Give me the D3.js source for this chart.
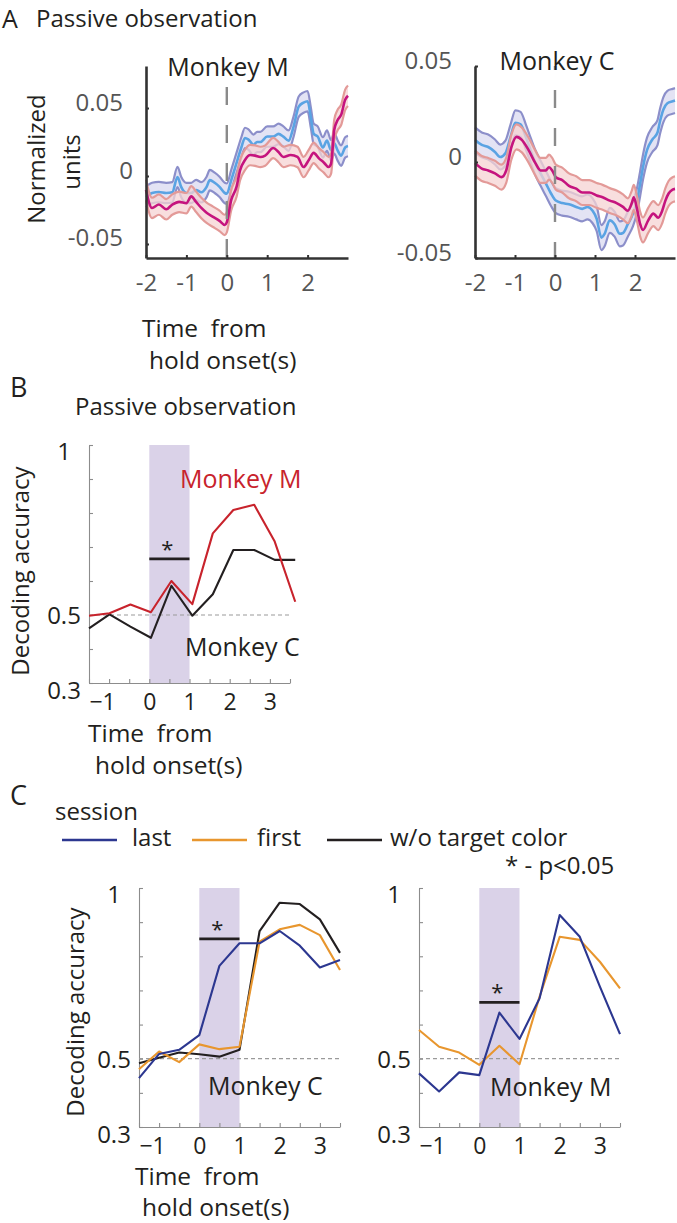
<!DOCTYPE html>
<html><head><meta charset="utf-8">
<script src="https://cdn.jsdelivr.net/npm/d3@7"></script>
<style>
body{margin:0;background:#fff;}
svg{display:block;}
text{white-space:pre;}
</style></head><body>
<script>
// ---------------- DATA ----------------
// Panel A: time (s) / normalized units pairs
const aLeftBlue = [[-2.0,-0.0154],[-1.85,-0.0125],[-1.68,-0.0118],[-1.5,-0.0125],[-1.35,-0.012],[-1.22,-0.0007],[-1.13,-0.008],[-1.0,-0.0125],[-0.88,-0.0125],[-0.76,-0.0103],[-0.63,-0.012],[-0.5,-0.008],[-0.42,-0.003],[-0.3,-0.005],[-0.18,-0.008],[-0.05,-0.0125],[0.0,-0.013],[0.11,-0.003],[0.24,0.0095],[0.36,0.021],[0.45,0.028],[0.53,0.027],[0.66,0.023],[0.75,0.025],[0.83,0.025],[1.0,0.029],[1.15,0.029],[1.28,0.031],[1.4,0.029],[1.53,0.026],[1.65,0.036],[1.78,0.051],[1.9,0.054],[2.0,0.055],[2.08,0.043],[2.15,0.031],[2.25,0.029],[2.38,0.021],[2.48,0.026],[2.58,0.019],[2.66,0.024],[2.74,0.019],[2.83,0.015],[2.93,0.021],[3.0,0.022]];
const aLeftMagenta = [[-2.0,-0.0103],[-1.85,-0.0235],[-1.68,-0.021],[-1.5,-0.0245],[-1.35,-0.021],[-1.18,-0.019],[-1.0,-0.020],[-0.88,-0.015],[-0.76,-0.019],[-0.63,-0.0235],[-0.5,-0.027],[-0.34,-0.030],[-0.18,-0.033],[-0.05,-0.036],[0.0,-0.034],[0.11,-0.0176],[0.24,-0.008],[0.33,0.0044],[0.45,0.0118],[0.58,0.0154],[0.7,0.015],[0.83,0.014],[0.95,0.015],[1.15,0.0206],[1.28,0.0176],[1.4,0.014],[1.58,0.0154],[1.75,0.014],[1.9,0.0066],[2.03,0.0118],[2.15,0.017],[2.28,0.013],[2.4,0.010],[2.52,0.0066],[2.58,0.009],[2.66,0.034],[2.74,0.041],[2.83,0.045],[2.93,0.056],[3.0,0.059]];
const aRightBlue = [[-2.0,0.0115],[-1.83,0.0089],[-1.67,0.0078],[-1.5,0.0052],[-1.37,0.0026],[-1.24,0.0046],[-1.11,0.0131],[-0.99,0.0204],[-0.86,0.0196],[-0.73,0.0131],[-0.61,0.0062],[-0.49,-0.0004],[-0.36,-0.0059],[-0.23,-0.0111],[-0.1,-0.0164],[0.02,-0.0201],[0.18,-0.0214],[0.35,-0.022],[0.53,-0.0234],[0.68,-0.0244],[0.81,-0.0234],[0.94,-0.0254],[1.04,-0.0294],[1.16,-0.0394],[1.24,-0.0374],[1.37,-0.0304],[1.49,-0.0324],[1.62,-0.0374],[1.7,-0.037],[1.82,-0.0324],[1.95,-0.0269],[2.05,-0.0201],[2.13,-0.0111],[2.2,-0.0027],[2.3,0.0062],[2.43,0.0116],[2.56,0.0152],[2.63,0.0216],[2.71,0.0273],[2.81,0.0306],[2.94,0.0316],[3.0,0.032]];
const aRightMagenta = [[-2.0,-0.0006],[-1.83,-0.0034],[-1.67,-0.0044],[-1.5,-0.0059],[-1.34,-0.0079],[-1.22,-0.0044],[-1.09,0.0078],[-0.96,0.0131],[-0.83,0.0115],[-0.66,0.0062],[-0.49,-0.0006],[-0.36,-0.0044],[-0.23,-0.0044],[-0.15,-0.0027],[-0.07,-0.0044],[0.02,-0.0079],[0.18,-0.0094],[0.35,-0.0124],[0.53,-0.0139],[0.68,-0.0159],[0.86,-0.0159],[1.04,-0.0174],[1.19,-0.0184],[1.37,-0.0201],[1.54,-0.0214],[1.7,-0.0234],[1.82,-0.0254],[1.92,-0.0214],[1.97,-0.0184],[2.05,-0.0244],[2.13,-0.0324],[2.2,-0.0354],[2.33,-0.0304],[2.46,-0.0269],[2.58,-0.029],[2.68,-0.0254],[2.76,-0.0201],[2.84,-0.0164],[2.94,-0.0144],[3.0,-0.014]];
const aLeftSem = 0.0075;
const aRightSem = 0.0065;
const aTicksX = [-2, -1, 0, 1, 2];
const aTickLabelsX = ["-2", "-1", "0", "1", "2"];
const aTicksY = [-0.05, 0, 0.05];
const aTickLabelsY = ["-0.05", "0", "0.05"];

// Panel B: decoding accuracy
const tB = [-1.5, -0.99, -0.47, 0.04, 0.55, 1.07, 1.58, 2.09, 2.61, 3.12, 3.63];
const bMonkeyM = [0.498, 0.505, 0.531, 0.508, 0.600, 0.532, 0.740, 0.809, 0.824, 0.716, 0.539];
const bMonkeyC = [0.461, 0.502, 0.466, 0.433, 0.586, 0.498, 0.561, 0.691, 0.691, 0.662, 0.662];
const bSig = 0.665;

// Panel C: decoding accuracy by session
const tC = [-1.5, -1, -0.5, 0, 0.5, 1, 1.5, 2, 2.5, 3, 3.5];
const cMonkeyCLast  = [0.443, 0.514, 0.526, 0.569, 0.772, 0.838, 0.838, 0.874, 0.831, 0.767, 0.789];
const cMonkeyCFirst = [0.469, 0.521, 0.490, 0.542, 0.528, 0.535, 0.843, 0.879, 0.892, 0.862, 0.760];
const cMonkeyCWo    = [0.487, 0.503, 0.518, 0.513, 0.506, 0.526, 0.874, 0.957, 0.953, 0.908, 0.810];
const cMonkeyMLast  = [0.457, 0.404, 0.460, 0.452, 0.635, 0.558, 0.677, 0.921, 0.857, 0.711, 0.572];
const cMonkeyMFirst = [0.584, 0.535, 0.518, 0.482, 0.538, 0.484, 0.682, 0.857, 0.848, 0.784, 0.706];
const cSigC = 0.851;
const cSigM = 0.665;

const decTicksX = [-1.5, -1, -0.5, 0, 0.5, 1, 1.5, 2, 2.5, 3, 3.5];
const decTickLabelsX = {"-1": "\u22121", "0": "0", "1": "1", "2": "2", "3": "3"};
const decTicksY = [0.3, 0.4, 0.5, 0.6, 0.7, 0.8, 0.9, 1.0];
const decTickLabelsY = {"0.3": "0.3", "0.5": "0.5", "1": "1"};
const xLabelLines = ["Time  from", "hold onset(s)"];

// ---------------- DRAW ----------------
const FONT = '"Open Sans", sans-serif';
const svg = d3.select("body").append("svg").attr("width", 677).attr("height", 1223)
  .style("font-family", FONT);

function text(x, y, s, size, opt = {}) {
  const t = svg.append("text").attr("x", x).attr("y", y).attr("font-size", size)
    .attr("fill", opt.fill || "#231f20").attr("text-anchor", opt.anchor || "start")
    .style("font-family", FONT).style("white-space", "pre").text(s);
  if (opt.rot) t.attr("transform", `rotate(${opt.rot},${x},${y})`);
  return t;
}
function xLabel(x, y, lineGap) {
  const t = svg.append("text").attr("x", x).attr("y", y).attr("font-size", 24.5)
    .attr("fill", "#231f20").style("font-family", FONT).style("white-space", "pre");
  t.append("tspan").attr("x", x).attr("y", y).text(xLabelLines[0]);
  t.append("tspan").attr("x", x + 7).attr("y", y + lineGap).text(xLabelLines[1]);
}

const COL = {
  blueMean: "#5aa3e3", blueEdge: "#8c8fca", blueFill: "#d9daf0",
  magMean: "#c5147e", magEdge: "#e39a98", magFill: "#f5d3d3"
};

function drawA(c) {
  const x = d3.scaleLinear().domain([-2, 3]).range([c.left, c.right]);
  const y = d3.scaleLinear().domain(c.yDomain).range([258, 66]);
  const g = svg.append("g");
  const area = (sem) => d3.area().x(d => x(d[0])).y0(d => y(d[1] - sem)).y1(d => y(d[1] + sem)).curve(d3.curveMonotoneX);
  const line = (off) => d3.line().x(d => x(d[0])).y(d => y(d[1] + off)).curve(d3.curveMonotoneX);
  const series = [
    [c.blue, COL.blueMean, COL.blueEdge, COL.blueFill],
    [c.mag, COL.magMean, COL.magEdge, COL.magFill]
  ];
  series.forEach(([data, mean, edge, fill]) => {
    g.append("path").attr("d", area(c.sem)(data)).attr("fill", fill).attr("fill-opacity", 0.75);
    [-c.sem, c.sem].forEach(o => g.append("path").attr("d", line(o)(data)).attr("fill", "none")
      .attr("stroke", edge).attr("stroke-width", 2.2));
    g.append("path").attr("d", line(0)(data)).attr("fill", "none").attr("stroke", mean).attr("stroke-width", 2.6);
  });
  // dashed onset line
  g.append("line").attr("x1", x(0)).attr("x2", x(0)).attr("y1", 66).attr("y2", 258)
    .attr("stroke", "#8a8a8a").attr("stroke-width", 2.4).attr("stroke-dasharray", "18,20")
    .attr("stroke-dashoffset", c.dashOff);
  // axes
  const ay = g.append("g").attr("transform", `translate(${c.left},0)`)
    .call(d3.axisLeft(y).tickValues(aTicksY).tickSize(-3).tickSizeOuter(0)
      .tickFormat((d, i) => aTickLabelsY[i]));
  const ax = g.append("g").attr("transform", `translate(0,258)`)
    .call(d3.axisBottom(x).tickValues(aTicksX).tickSize(-3).tickSizeOuter(0)
      .tickFormat((d, i) => aTickLabelsX[i]));
  [ay, ax].forEach(a => {
    a.select(".domain").attr("stroke", "#333").attr("stroke-width", 2.6);
    a.selectAll(".tick line").attr("stroke", "#333").attr("stroke-width", 2);
    a.selectAll("text").attr("font-size", 24).attr("fill", "#555").style("font-family", FONT);
  });
  ay.selectAll(".tick text").attr("dy", 0).attr("y", 2)
    .attr("x", d => d === 0 ? -13 : -23);
  ax.selectAll(".tick text").attr("dy", 0).attr("y", 33);
  text(c.titleX, c.titleY, c.title, 25, {anchor: "middle"});
}

// Panel A
text(2, 28, "A", 25);
text(36, 27, "Passive observation", 24);
drawA({left: 146, right: 348, yDomain: [-0.0603, 0.0809], blue: aLeftBlue, mag: aLeftMagenta,
  sem: aLeftSem, dashOff: 17, title: "Monkey M", titleX: 228, titleY: 76});
drawA({left: 475, right: 675, yDomain: [-0.05, 0.05], blue: aRightBlue, mag: aRightMagenta,
  sem: aRightSem, dashOff: 14, title: "Monkey C", titleX: 557, titleY: 70});
text(45, 159, "Normalized", 24, {anchor: "middle", rot: -90});
text(80, 162, "units", 24, {anchor: "middle", rot: -90});
xLabel(142, 337, 32);

function drawDec(c) {
  const x = d3.scaleLinear().domain([-1.5, 3.5]).range([c.left, c.right]);
  const y = d3.scaleLinear().domain([0.3, 1]).range([c.bottom, c.top]);
  const g = svg.append("g");
  g.append("rect").attr("x", x(0)).attr("width", x(1) - x(0)).attr("y", c.top)
    .attr("height", c.bottom - c.top).attr("fill", "#dad2e8");
  const ay = g.append("g").attr("transform", `translate(${c.left},0)`)
    .call(d3.axisLeft(y).tickValues(decTicksY).tickSize(-4).tickSizeOuter(0)
      .tickFormat(d => decTickLabelsY[String(+d.toFixed(1))] || ""));
  const ax = g.append("g").attr("transform", `translate(0,${c.bottom})`)
    .call(d3.axisBottom(x).tickValues(decTicksX).tickSize(-4).tickSizeOuter(0)
      .tickFormat(d => decTickLabelsX[String(d)] || ""));
  [ay, ax].forEach(a => {
    a.select(".domain").attr("stroke", "#8c8c8c").attr("stroke-width", 1.1);
    a.selectAll(".tick line").attr("stroke", "#8c8c8c").attr("stroke-width", 1.1);
    a.selectAll("text").attr("font-size", 24).attr("fill", "#231f20").style("font-family", FONT);
  });
  const yOff = {"0.3": 15, "0.5": 8.5, "1": 14};
  ay.selectAll(".tick text").attr("text-anchor", "middle").attr("x", -25).attr("dy", 0)
    .attr("y", d => yOff[String(+d.toFixed(1))] || 0);
  ax.selectAll(".tick text").attr("dy", 0).attr("y", 27).attr("font-size", 23)
    .attr("dx", d => d < 0 ? -7 : 0);
  g.append("line").attr("x1", c.left).attr("x2", c.right).attr("y1", y(0.5)).attr("y2", y(0.5))
    .attr("stroke", "#9a9a9a").attr("stroke-width", 1.2).attr("stroke-dasharray", "4,3");
  c.series.forEach(s => {
    const pts = s.t.map((t, i) => [t, s.v[i]]);
    g.append("path").attr("d", d3.line().x(d => x(d[0])).y(d => y(d[1]))(pts))
      .attr("fill", "none").attr("stroke", s.color).attr("stroke-width", 2.1)
      .attr("stroke-linejoin", "round");
  });
  g.append("line").attr("x1", x(0)).attr("x2", x(1)).attr("y1", y(c.sig)).attr("y2", y(c.sig))
    .attr("stroke", "#231f20").attr("stroke-width", 2.6);
  text(x(0.45), y(c.sig) - 2, "*", 22, {anchor: "middle"});
}

const RED = "#c8232c", BLACK = "#231f20", NAVY = "#2c3790", ORANGE = "#e8962e";

// Panel B
text(10, 397, "B", 27);
text(75, 415, "Passive observation", 24);
drawDec({left: 89, right: 290, top: 445, bottom: 683, sig: bSig, series: [
  {t: tB, v: bMonkeyC, color: BLACK},
  {t: tB, v: bMonkeyM, color: RED}
]});
text(180, 488, "Monkey M", 25, {fill: RED});
text(185, 656, "Monkey C", 25);
text(29, 571, "Decoding accuracy", 24, {anchor: "middle", rot: -90});
xLabel(88, 742, 32);

// Panel C
text(10, 805, "C", 27);
text(55, 820, "session", 24);
const legend = [
  {x1: 62, x2: 117, tx: 132, label: "last", color: NAVY},
  {x1: 192, x2: 247, tx: 257, label: "first", color: ORANGE},
  {x1: 327, x2: 382, tx: 390, label: "w/o target color", color: BLACK}
];
legend.forEach(l => {
  svg.append("line").attr("x1", l.x1).attr("x2", l.x2).attr("y1", 840).attr("y2", 840)
    .attr("stroke", l.color).attr("stroke-width", 2.4);
  text(l.tx, 846, l.label, 24);
});
text(505, 874, "* - p<0.05", 24);

drawDec({left: 139, right: 340, top: 888, bottom: 1127, sig: cSigC, series: [
  {t: tC, v: cMonkeyCWo, color: BLACK},
  {t: tC, v: cMonkeyCFirst, color: ORANGE},
  {t: tC, v: cMonkeyCLast, color: NAVY}
]});
drawDec({left: 419, right: 620, top: 888, bottom: 1127, sig: cSigM, series: [
  {t: tC, v: cMonkeyMFirst, color: ORANGE},
  {t: tC, v: cMonkeyMLast, color: NAVY}
]});
text(208, 1095, "Monkey C", 25);
text(490, 1096, "Monkey M", 25);
text(84, 1012, "Decoding accuracy", 24, {anchor: "middle", rot: -90});
xLabel(135, 1185, 31);
</script>
</body></html>
